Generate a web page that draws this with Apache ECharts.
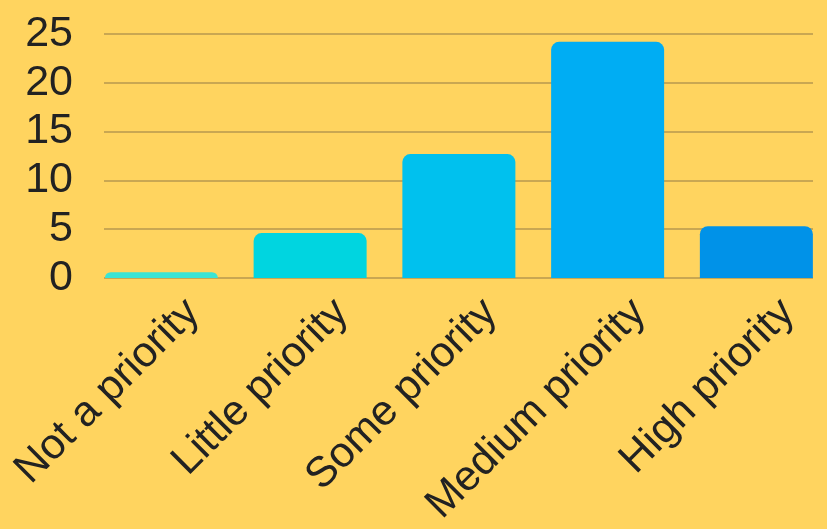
<!DOCTYPE html>
<html><head><meta charset="utf-8">
<script src="https://cdn.jsdelivr.net/npm/echarts@6/dist/echarts.min.js"></script>
<style>html,body{margin:0;padding:0;background:#FFD45F;overflow:hidden}#c{width:900px;height:529px}</style>
</head><body><div id="c"></div>
<script>
const categories = ['Not a priority', 'Little priority', 'Some priority', 'Medium priority', 'High priority'];
const values = [0.6, 4.6, 12.7, 24.2, 5.3];
const barColors = ['#3BE4D4', '#00D5E0', '#00C1EE', '#00ADF3', '#0092E8'];
const yTicks = { min: 0, max: 25, interval: 5 };

(function () {
const chart = echarts.init(document.getElementById('c'), null, { renderer: 'canvas' });
const font = 'Liberation Sans, Arial, sans-serif';
const gTop = 34, gBottom = 529 - 278;
chart.setOption({
  backgroundColor: '#FFD45F',
  animation: false,
  grid: [
    { left: 104, width: 709, top: gTop, bottom: gBottom },
    { left: 87, width: 743.75, top: gTop, bottom: gBottom },
    { left: 118.5, width: 743.75, top: gTop, bottom: gBottom }
  ],
  xAxis: [
    { gridIndex: 0, type: 'category', data: categories, axisLine: { show: false }, axisTick: { show: false }, axisLabel: { show: false } },
    { gridIndex: 1, type: 'category', data: categories, axisLine: { show: false }, axisTick: { show: false }, axisLabel: { show: false } },
    { gridIndex: 2, type: 'category', data: categories, axisLine: { show: false }, axisTick: { show: false },
      axisLabel: { show: true, rotate: 45, interval: 0, margin: 35, fontSize: 42.5, color: '#222', fontFamily: font } }
  ],
  yAxis: [
    { gridIndex: 0, type: 'value', min: yTicks.min, max: yTicks.max, interval: yTicks.interval,
      axisLine: { show: false }, axisTick: { show: false },
      axisLabel: { fontSize: 43, color: '#222', fontFamily: font, margin: 31 },
      splitLine: { lineStyle: { color: '#C9A752', width: 2 } } },
    { gridIndex: 1, type: 'value', min: yTicks.min, max: yTicks.max, interval: yTicks.interval, show: false },
    { gridIndex: 2, type: 'value', min: yTicks.min, max: yTicks.max, interval: yTicks.interval, show: false }
  ],
  series: [{
    type: 'bar', xAxisIndex: 1, yAxisIndex: 1,
    barWidth: 113,
    data: values.map((v, i) => ({ value: v, itemStyle: { color: barColors[i], borderRadius: [8, 8, 0, 0] } }))
  }]
});
})();
</script></body></html>
